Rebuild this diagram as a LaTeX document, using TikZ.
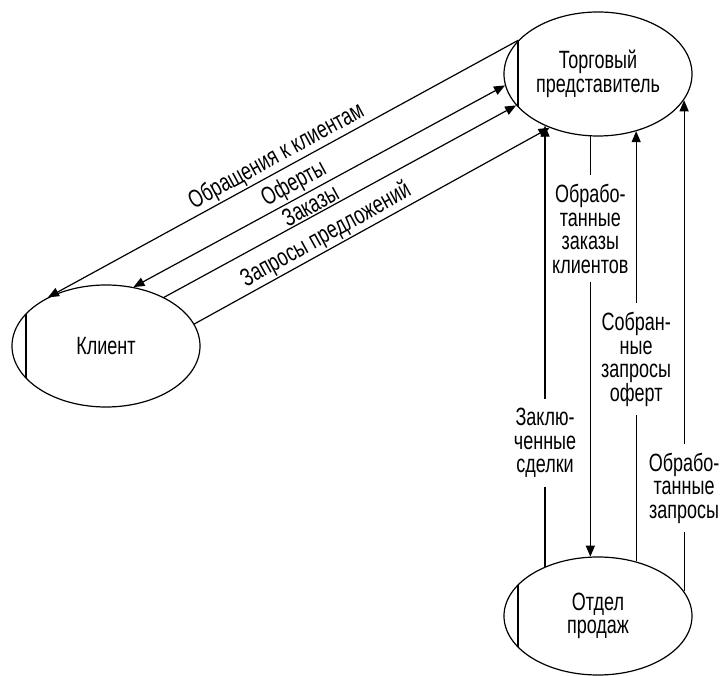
\documentclass[tikz,border=0pt]{standalone}
\usepackage{fontspec}
\setmainfont[FakeStretch=0.72]{Liberation Sans}
\usetikzlibrary{arrows.meta,shapes.geometric}

\begin{document}
\begin{tikzpicture}[x=1pt, y=-1pt, line width=1.2pt,
    >={Triangle[length=11pt,width=9pt]},
    unit/.style={ellipse, draw, minimum width=188pt, inner sep=0pt, align=center,
      font=\fontsize{25}{23.5}\selectfont,
      path picture={\draw (path picture bounding box.north west) ++(14pt,0) -- ++(0,-200pt);}},
    lbl/.style={font=\fontsize{25}{23.5}\selectfont, inner sep=1.5pt},
    gap/.style={fill=white, align=center, inner xsep=2pt, inner ysep=9pt,
      font=\fontsize{25}{23.5}\selectfont}]
    \useasboundingbox (0,0) rectangle (721,676);
    % Draw the units
    \node[unit, minimum height=124pt] (rep) at (598,74) {Торговый\\представитель};
    \node[unit, minimum height=122pt] (client) at (106,346) {Клиент};
    \node[unit, minimum height=118pt] (sales) at (598,616) {Отдел\\продаж};
    % Draw the flows between client and rep
    \draw[->] (rep.157) -- node[lbl, above, sloped] {Обращения к клиентам} (client.140);
    \draw[<->] (rep.187) -- node[lbl, above, sloped, pos=0.55] {Оферты} (client.65);
    \draw[->] (client.40) -- node[lbl, above, sloped, pos=0.43] {Заказы} (rep.201);
    \draw[->] (client.14) -- node[lbl, above, sloped, pos=0.39] {Запросы предложений} (rep.228);
    % Draw the flows between rep and sales
    \draw[->] (sales.137) -- node[gap, pos=0.28] {Заклю-\\ченные\\сделки} (sales.137 |- rep.224);
    \draw[->] (rep.263) -- node[gap, pos=0.22] {Обрабо-\\танные\\заказы\\клиентов} (rep.263 |- sales.98);
    \draw[->] (sales.55) -- node[gap, pos=0.47] {Собран-\\ные\\запросы\\оферт} (sales.55 |- rep.304);
    \draw[->] (sales.16) -- node[gap, pos=0.21] {Обрабо-\\танные\\запросы} (sales.16 |- rep.343);
\end{tikzpicture}
\end{document}
